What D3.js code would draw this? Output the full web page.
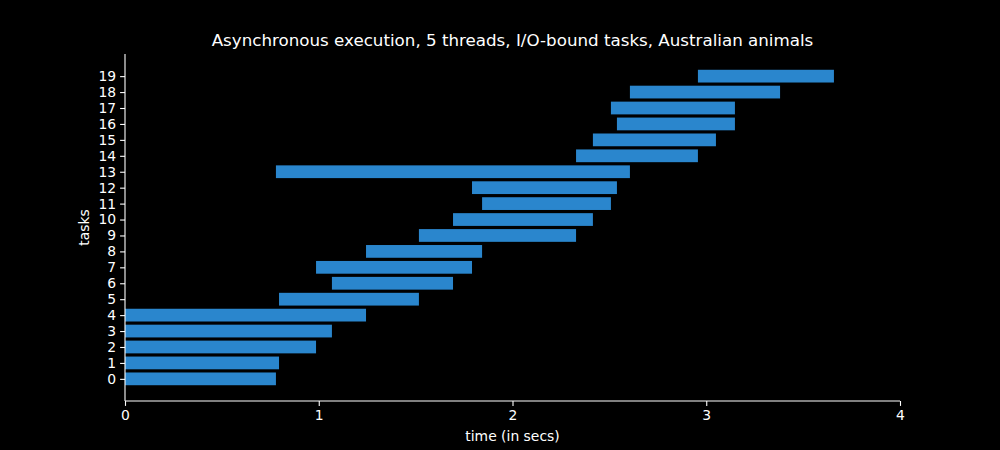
<!DOCTYPE html>
<html><head><meta charset="utf-8">
<script src="https://cdn.jsdelivr.net/npm/d3@7"></script>
<style>body{margin:0;background:#000}svg{display:block}</style>
</head><body>
<svg id="c" width="1000" height="450"></svg>
<script>
const tasks = d3.range(0, 20);
const starts = [0, 0, 0, 0, 0, 0.795, 1.068, 0.986, 1.244, 1.517, 1.693, 1.843, 1.791, 0.779, 2.328, 2.415, 2.539, 2.508, 2.606, 2.957];
const ends = [0.779, 0.795, 0.986, 1.068, 1.244, 1.517, 1.693, 1.791, 1.843, 2.328, 2.415, 2.508, 2.539, 2.606, 2.957, 3.050, 3.148, 3.148, 3.381, 3.659];
const xTicks = [0, 1, 2, 3, 4];
const title = "Asynchronous execution, 5 threads, I/O-bound tasks, Australian animals";

const svg = d3.select("#c");
const font = "DejaVu Sans, sans-serif";
const L = 125, R = 900, T = 54, B = 401;
const x = d3.scaleLinear().domain([0, 4]).range([L, R]);
const y = d3.scaleLinear().domain([-1.39, 20.39]).range([B, T]);
const h = 0.8;

svg.append("rect").attr("width", 1000).attr("height", 450).attr("fill", "#000");

svg.append("g").selectAll("rect").data(tasks).join("rect")
  .attr("x", d => x(starts[d]))
  .attr("width", d => x(ends[d]) - x(starts[d]))
  .attr("y", d => y(d + h / 2))
  .attr("height", d => y(d - h / 2) - y(d + h / 2))
  .attr("fill", "#2a86cd");

const xAxis = svg.append("g").attr("transform", `translate(0,${B})`)
  .call(d3.axisBottom(x).tickValues(xTicks).tickFormat(d3.format("d")).tickSizeOuter(0).tickSize(4.9).tickPadding(4));
const yAxis = svg.append("g").attr("transform", `translate(${L},0)`)
  .call(d3.axisLeft(y).tickValues(tasks).tickFormat(d3.format("d")).tickSizeOuter(0).tickSize(4.9).tickPadding(4));
[xAxis, yAxis].forEach(a => {
  a.select(".domain").attr("stroke", "#fff").attr("stroke-width", 1.1);
  a.selectAll(".tick line").attr("stroke", "#fff").attr("stroke-width", 1.1);
  a.selectAll(".tick text").attr("fill", "#fff").attr("font-family", font).attr("font-size", 13.9);
});
xAxis.select(".domain").attr("d", `M${L},0H${R}`);
yAxis.select(".domain").attr("d", `M0,${B}V${T}`);

svg.append("text").attr("x", (L + R) / 2).attr("y", 46).attr("text-anchor", "middle")
  .attr("fill", "#fff").attr("font-family", font).attr("font-size", 16.7).text(title);
svg.append("text").attr("x", (L + R) / 2).attr("y", 441).attr("text-anchor", "middle")
  .attr("fill", "#fff").attr("font-family", font).attr("font-size", 13.9).text("time (in secs)");
svg.append("text").attr("transform", `translate(89,${(T + B) / 2}) rotate(-90)`).attr("text-anchor", "middle")
  .attr("fill", "#fff").attr("font-family", font).attr("font-size", 13.9).text("tasks");
</script>
</body></html>
